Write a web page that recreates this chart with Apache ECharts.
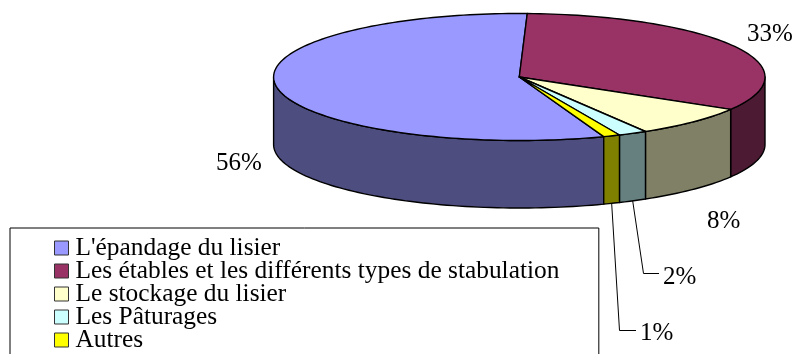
<!DOCTYPE html>
<html>
<head>
<meta charset="utf-8">
<title>Pie</title>
<script src="https://cdn.jsdelivr.net/npm/echarts@6/dist/echarts.min.js"></script>
<style>
html,body{margin:0;padding:0;background:#fff;}
#main{width:794px;height:354px;overflow:hidden;}
</style>
</head>
<body>
<div id="main"></div>
<script>
// data (shares in %)
var categories = ["L'épandage du lisier", "Les étables et les différents types de stabulation", "Le stockage du lisier", "Les Pâturages", "Autres"];
var shares = [56.1, 33.0, 7.9, 1.9, 1.1];

var topColors = ['#9999ff', '#993366', '#ffffcc', '#ccffff', '#ffff00'];
var sideColors = ['#4d4d80', '#4d1a33', '#808066', '#668080', '#808000'];

// layout of the tilted pie
var cx = 519.3, cy = 77, rx = 245.7, ry = 63.5, depth = 67.5;
var startAngle = 159.9;
// label anchors and leader elbows, per slice
var labelPos = [[216, 163], [747, 34], [707, 221], [663, 277], [640, 333]];
var elbows = [null, null, null, [643.5, 273.5], [619.5, 330.5]];

var total = 0;
shares.forEach(function (v) { total += v; });

var angles = [];
var run = startAngle;
shares.forEach(function (v) {
    angles.push([run, run + v / total * 360]);
    run += v / total * 360;
});

function rim(a, dy) {
    var t = a * Math.PI / 180;
    return [cx + rx * Math.sin(t), cy - ry * Math.cos(t) + (dy || 0)];
}

function arc(a0, a1, dy) {
    var pts = [];
    var n = Math.max(2, Math.ceil(Math.abs(a1 - a0) / 1.5));
    for (var i = 0; i <= n; i++) {
        pts.push(rim(a0 + (a1 - a0) * i / n, dy));
    }
    return pts;
}

// the front half of the rim is the only part with a visible wall
function wallParts(a0, a1) {
    var parts = [];
    [[90, 270], [450, 630]].forEach(function (f) {
        var s = Math.max(a0, f[0]), e = Math.min(a1, f[1]);
        if (e > s) parts.push([s, e]);
    });
    return parts;
}

var lineStyle = {stroke: '#000', lineWidth: 1.4, lineJoin: 'round'};

function renderSlice(params, api) {
    var i = params.seriesIndex;
    var a = angles[i];
    var children = [];
    wallParts(a[0], a[1]).forEach(function (p) {
        var pts = arc(p[0], p[1], 0).concat(arc(p[1], p[0], depth));
        children.push({
            type: 'polygon',
            shape: {points: pts},
            style: Object.assign({fill: sideColors[i]}, lineStyle)
        });
    });
    children.push({
        type: 'polygon',
        shape: {points: [[cx, cy]].concat(arc(a[0], a[1], 0))},
        style: Object.assign({fill: topColors[i]}, lineStyle)
    });
    if (elbows[i]) {
        var from = rim((a[0] + a[1]) / 2, depth);
        children.push({
            type: 'polyline',
            shape: {points: [from, elbows[i], [labelPos[i][0] - 4, elbows[i][1]]]},
            style: {stroke: '#000', lineWidth: 1, fill: null}
        });
    }
    children.push({
        type: 'text',
        style: {
            text: Math.round(api.value(0) / total * 100) + '%',
            x: labelPos[i][0],
            y: labelPos[i][1],
            fill: '#000',
            font: '25px "Liberation Serif"',
            textAlign: 'left',
            textVerticalAlign: 'middle'
        }
    });
    return {type: 'group', children: children};
}

var myChart = echarts.init(document.getElementById('main'));
var series_data = [];
categories.forEach(function (name, i) {
    series_data.push({
        name: name,
        type: 'custom',
        coordinateSystem: 'none',
        renderItem: renderSlice,
        itemStyle: {color: topColors[i]},
        data: [[shares[i]]],
        silent: true
    });
});

var option = {
    animation: false,
    backgroundColor: '#fff',
    legend: {
        orient: 'vertical',
        left: 10,
        top: 228,
        height: 200,
        padding: [7.5, 39.4, 20, 44],
        borderColor: '#000',
        borderWidth: 1,
        icon: 'rect',
        itemWidth: 14,
        itemHeight: 14,
        itemGap: -2,
        selectedMode: false,
        itemStyle: {borderColor: '#333', borderWidth: 1},
        textStyle: {color: '#000', fontFamily: 'Liberation Serif', fontSize: 25.4, lineHeight: 23, padding: [0, 0, 0, 2]},
        data: categories
    },
    series: series_data
};
myChart.setOption(option);
</script>
</body>
</html>
